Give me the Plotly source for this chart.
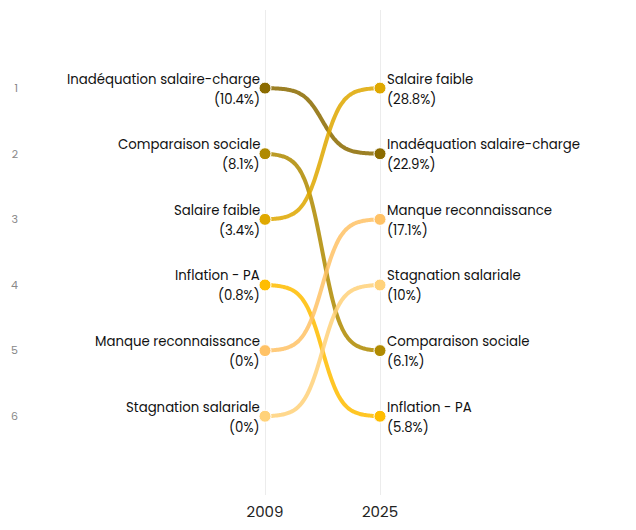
import numpy as np
import plotly.graph_objects as go

categories = ["Inadéquation salaire-charge", "Comparaison sociale", "Salaire faible",
              "Inflation - PA", "Manque reconnaissance", "Stagnation salariale"]
years = ["2009", "2025"]
pct_2009 = [10.4, 8.1, 3.4, 0.8, 0, 0]
pct_2025 = [22.9, 6.1, 28.8, 5.8, 17.1, 10]
rank_2009 = [1, 2, 3, 4, 5, 6]
rank_2025 = [2, 5, 1, 6, 3, 4]
colors = ["#8b6b00", "#b08a00", "#dfa800", "#ffbd00", "#ffc266", "#ffd27a"]

FONT = "Poppins, Open Sans, sans-serif"
label_font = dict(family=FONT, size=13.3, color="#111")


def smooth(t, k=12):
    # logistic easing between the two ranks
    s = 1 / (1 + np.exp(-k * (t - 0.5)))
    a = 1 / (1 + np.exp(k / 2))
    return (s - a) / (1 - 2 * a)


fig = go.Figure()

t = np.linspace(0, 1, 80)
for i, cat in enumerate(categories):
    y = rank_2009[i] + (rank_2025[i] - rank_2009[i]) * smooth(t)
    fig.add_trace(go.Scatter(
        x=t, y=y, mode="lines",
        line=dict(color=colors[i], width=4, shape="spline"),
        opacity=0.85, hoverinfo="skip", showlegend=False,
    ))

for i, cat in enumerate(categories):
    fig.add_trace(go.Scatter(
        x=[0, 1], y=[rank_2009[i], rank_2025[i]], mode="markers",
        marker=dict(color=colors[i], size=12, line=dict(color="white", width=1)),
        name=cat, showlegend=False,
    ))
    # labels: name above, value below, on each side
    for xv, rk, pv, anchor, dx in [(0, rank_2009[i], pct_2009[i], "right", -3),
                                   (1, rank_2025[i], pct_2025[i], "left", 5)]:
        fig.add_annotation(x=xv, y=rk, text=cat, showarrow=False,
                           xanchor=anchor, yanchor="middle", xshift=dx, yshift=9,
                           font=label_font)
        fig.add_annotation(x=xv, y=rk, text=f"({pv:g}%)", showarrow=False,
                           xanchor=anchor, yanchor="middle", xshift=dx, yshift=-11,
                           font=label_font)

fig.update_layout(
    width=636, height=530,
    margin=dict(l=14, r=28, t=2, b=43),
    plot_bgcolor="white", paper_bgcolor="white",
    font=dict(family=FONT),
)
fig.update_xaxes(
    range=[-2.113, 3.052], tickvals=[0, 1], ticktext=years,
    showgrid=True, gridcolor="#ececec", gridwidth=1, zeroline=False,
    tickfont=dict(size=15, color="#222"), ticklabelstandoff=6,
)
fig.update_yaxes(
    range=[7.2, -0.19], tickvals=[1, 2, 3, 4, 5, 6],
    showgrid=False, zeroline=False,
    tickfont=dict(size=11, color="#888"), ticklabelstandoff=3,
)

fig.write_html("out.html")
